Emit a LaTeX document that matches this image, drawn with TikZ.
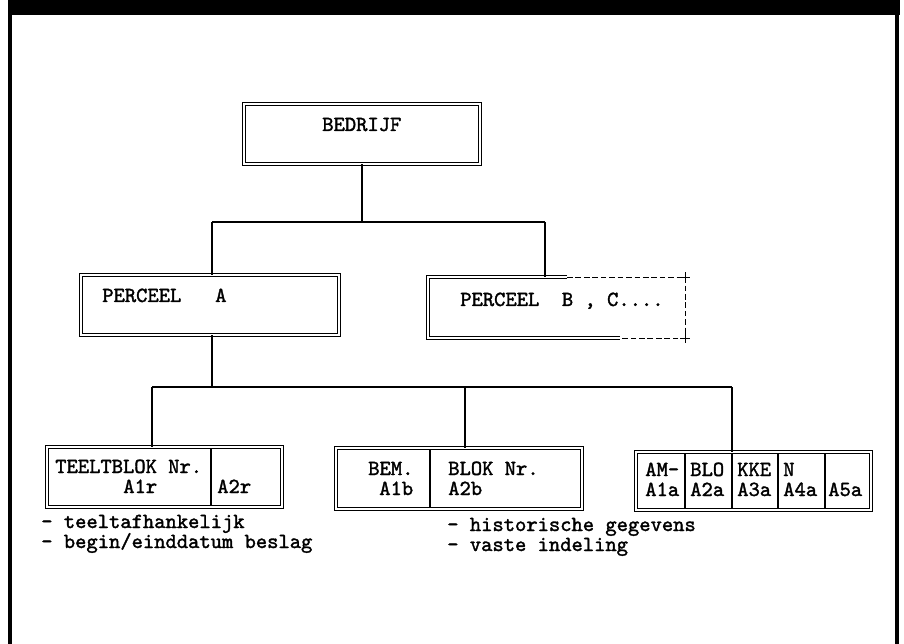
\documentclass[tikz,border=0pt]{standalone}
\usepackage{fontspec}
\setmonofont{lmmono10-regular.otf}[AutoFakeBold=1.6]
\usetikzlibrary{calc}

\begin{document}
\begin{tikzpicture}[
  x=0.025cm,y=-0.025cm,
  dbl/.style={draw,double,line width=0.6pt,double distance=1.5pt,inner sep=0pt},
  lbl/.style={anchor=base west,inner sep=0pt,text height=9.4pt,text depth=2.4pt,
    font=\ttfamily\bfseries\fontsize{15.3}{16}\selectfont},
  conn/.style={line width=0.8pt},
  sep/.style={line width=0.8pt,shorten <=1.3pt,shorten >=1.3pt}
]
  % Page and frame
  \useasboundingbox (0,0) rectangle (904,644);
  \fill[white] (0,0) rectangle (904,644);
  \fill[black] (8,0) rectangle (900,15);
  \draw[line width=2.2pt] (10,0) -- (10,644);
  \draw[line width=2.6pt] (897,0) -- (897,644);

  % Top level
  \node[dbl,minimum width=5.9cm,minimum height=1.5cm] (bedrijf) at (362,134) {};
  \node[lbl] (tBedrijf) at (322,131) {BEDRIJF};

  % Second level
  \node[dbl,minimum width=6.45cm,minimum height=1.5cm] (perceelA) at (210,305) {};
  \node[lbl] (tPercA) at (102,302) {PERCEEL\ \ \ A};
  \node[minimum width=6.425cm,minimum height=1.525cm,inner sep=0pt] (perceelB) at (556.5,307.5) {};
  \draw[line width=0.6pt,double,double distance=1.5pt] (567,277) -- (428,277) -- (428,338) -- (620,338);
  \draw[line width=0.7pt,dash pattern=on 4pt off 2pt] (567,277) -- (685,277) -- (685,338) -- (620,338);
  \draw[line width=0.7pt] (680,277) -- (690,277) (685,272) -- (685,282);
  \draw[line width=0.7pt] (680,338) -- (690,338) (685,333) -- (685,343);
  \node[lbl] (tPercB) at (460,306) {PERCEEL\ \ B\ ,\ C....};

  % Third level
  \node[dbl,minimum width=5.875cm,minimum height=1.5cm] (blok1) at (164.5,477) {};
  \draw[sep] (211,0 |- blok1.north) -- (211,0 |- blok1.south);
  \node[lbl] (tTeelt) at (55,473) {TEELTBLOK Nr.};
  \node[lbl] (tA1r) at (123,493) {A1r};
  \node[lbl] (tA2r) at (217,493) {A2r};

  \node[dbl,minimum width=6.15cm,minimum height=1.525cm] (blok2) at (459,478.5) {};
  \draw[sep] (430,0 |- blok2.north) -- (430,0 |- blok2.south);
  \node[lbl] (tBem) at (368,475) {BEM.};
  \node[lbl] (tA1b) at (379,495) {A1b};
  \node[lbl] (tBlok) at (448,475) {BLOK Nr.};
  \node[lbl] (tA2b) at (448,495) {A2b};

  \node[dbl,minimum width=5.875cm,minimum height=1.45cm] (blok3) at (753.5,481) {};
  \foreach \xx in {685,732,778,825}
    \draw[sep] (\xx,0 |- blok3.north) -- (\xx,0 |- blok3.south);
  \node[lbl] (tAm) at (645,476) {AM-};
  \node[lbl] (tA1a) at (645,496) {A1a};
  \node[lbl] (tBlo) at (690,476) {BLO};
  \node[lbl] (tA2a) at (690,496) {A2a};
  \node[lbl] (tKke) at (737,476) {KKE};
  \node[lbl] (tA3a) at (737,496) {A3a};
  \node[lbl] (tN) at (783,476) {N};
  \node[lbl] (tA4a) at (783,496) {A4a};
  \node[lbl] (tA5a) at (828,496) {A5a};

  % Notes
  \node[lbl] (note1a) at (41,528) {- teeltafhankelijk};
  \node[lbl] (note1b) at (41,548) {- begin/einddatum beslag};
  \node[lbl] (note2a) at (447,531) {- historische gegevens};
  \node[lbl] (note2b) at (447,551) {- vaste indeling};

  % Connectors
  \coordinate (hubA) at (362,222);
  \coordinate (dA) at (212,222);
  \coordinate (dB) at (545,222);
  \draw[conn] (bedrijf.south) -- (hubA);
  \draw[conn] (dA) -- (dB);
  \draw[conn] (dA) -- (dA |- perceelA.north);
  \draw[conn] (dB) -- (dB |- perceelB.north);

  \coordinate (hubB) at (212,387);
  \coordinate (d1) at (152,387);
  \coordinate (d2) at (465,387);
  \coordinate (d3) at (732,387);
  \draw[conn] (perceelA.south -| hubB) -- (hubB);
  \draw[conn] (d1) -- (d3);
  \draw[conn] (d1) -- (d1 |- blok1.north);
  \draw[conn] (d2) -- (d2 |- blok2.north);
  \draw[conn] (d3) -- (d3 |- blok3.north);
\end{tikzpicture}
\end{document}
